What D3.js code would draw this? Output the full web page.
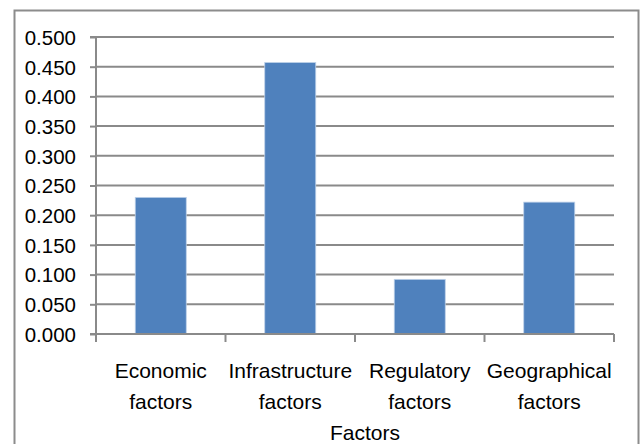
<!DOCTYPE html>
<html>
<head>
<meta charset="utf-8">
<script src="https://cdn.jsdelivr.net/npm/d3@7"></script>
<style>
  html, body { margin: 0; padding: 0; background: #fff; }
  svg { display: block; }
  text { font-family: "Liberation Sans", Arial, sans-serif; fill: #000; }
</style>
</head>
<body>
<svg id="chart" width="641" height="444"></svg>
<script>
// Factor categories (two-line labels) and their weights
const categories = ["Economic factors", "Infrastructure factors", "Regulatory factors", "Geographical factors"];
const labelLines = [["Economic", "factors"], ["Infrastructure", "factors"], ["Regulatory", "factors"], ["Geographical", "factors"]];
const values = [0.230, 0.457, 0.092, 0.222];
const yTicks = [0, 0.05, 0.1, 0.15, 0.2, 0.25, 0.3, 0.35, 0.4, 0.45, 0.5];
const xTitle = "Factors";

const svg = d3.select("#chart");
const plot = { left: 96, right: 614, top: 37, bottom: 334 };

// outer chart frame
svg.append("rect")
  .attr("x", 14.5).attr("y", 10.5)
  .attr("width", 624).attr("height", 440)
  .attr("fill", "none").attr("stroke", "#8c8c8c").attr("stroke-width", 2);

const xb = d3.scaleBand().domain(categories).range([plot.left, plot.right]);
const y = d3.scaleLinear().domain([0, 0.5]).range([plot.bottom, plot.top]);

// horizontal gridlines
svg.append("g")
  .selectAll("line").data(yTicks.filter(d => d > 0)).join("line")
  .attr("x1", plot.left).attr("x2", plot.right)
  .attr("y1", d => y(d)).attr("y2", d => y(d))
  .attr("stroke", "#8a8a8a").attr("stroke-width", 2);

// bars
svg.append("g")
  .selectAll("rect").data(values).join("rect")
  .attr("x", (d, i) => xb(categories[i]) + xb.bandwidth() / 2 - 25.5)
  .attr("width", 51)
  .attr("y", d => y(d))
  .attr("height", d => y(0) - y(d))
  .attr("fill", "#4f81bd")
  .attr("stroke", "#bcd0e8").attr("stroke-width", 0.8);

// y axis
const yAxis = d3.axisLeft(y).tickValues(yTicks).tickFormat(d3.format(".3f")).tickSize(6).tickPadding(14);
const gy = svg.append("g").attr("transform", `translate(${plot.left},0)`).call(yAxis);
gy.select(".domain").attr("stroke", "#8a8a8a").attr("stroke-width", 2).attr("d", `M-6,${plot.top}H0V${plot.bottom}`);
gy.selectAll(".tick line").attr("stroke", "#8a8a8a").attr("stroke-width", 2);
gy.selectAll(".tick text").attr("font-size", 20.5).attr("font-family", "Liberation Sans, Arial, sans-serif").attr("fill", "#000").attr("dy", "0.36em");

// x axis line with ticks at category boundaries
const gx = svg.append("g");
gx.append("line")
  .attr("x1", plot.left - 6).attr("x2", plot.right)
  .attr("y1", plot.bottom).attr("y2", plot.bottom)
  .attr("stroke", "#8a8a8a").attr("stroke-width", 2);
const bounds = categories.map(c => xb(c)).concat([plot.right]);
gx.selectAll("line.tk").data(bounds).join("line").attr("class", "tk")
  .attr("x1", d => d).attr("x2", d => d)
  .attr("y1", plot.bottom).attr("y2", plot.bottom + 8)
  .attr("stroke", "#8a8a8a").attr("stroke-width", 2);

// category labels
const lab = svg.append("g");
labelLines.forEach((lines, i) => {
  const cx = xb(categories[i]) + xb.bandwidth() / 2;
  lines.forEach((t, j) => {
    lab.append("text")
      .attr("x", cx).attr("y", 378 + j * 31)
      .attr("text-anchor", "middle").attr("font-size", 21)
      .text(t);
  });
});

// axis title
svg.append("text")
  .attr("x", 365).attr("y", 440)
  .attr("text-anchor", "middle").attr("font-size", 21)
  .text(xTitle);
</script>
</body>
</html>
